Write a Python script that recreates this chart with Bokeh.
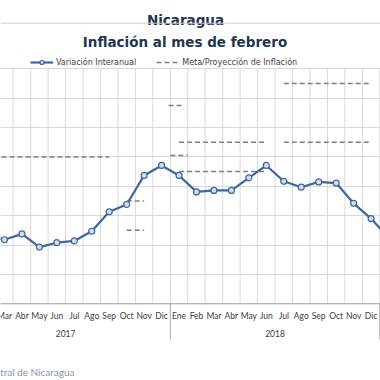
from bokeh.plotting import figure
from bokeh.models import Range1d, FixedTicker, Label, Span, Legend, LegendItem, Grid
from bokeh.core.properties import value
from bokeh.embed import file_html
from bokeh.resources import INLINE

# ---------------- data ----------------
month_names = ["Ene", "Feb", "Mar", "Abr", "May", "Jun", "Jul", "Ago", "Sep", "Oct", "Nov", "Dic"]
years = ["2017", "2018"]

# month index: Ene 2017 = 0 ... Dic 2018 = 23, Ene 2019 = 24
inter_idx = list(range(1, 25))  # Feb 2017 .. Ene 2019
inter_val = [3.35, 3.18, 3.38, 2.93, 3.08, 3.14, 3.47, 4.13, 4.38, 5.37, 5.71,
             5.37, 4.81, 4.86, 4.86, 5.29, 5.71, 5.17, 4.97, 5.15, 5.11, 4.42, 3.90,
             3.25]

# Meta / proyección de inflación (horizontal segments, month-index units)
meta_start = [0, 9, 9, 11.4, 11.5, 12, 12, 18, 18]
meta_end = [8, 10, 10, 12.2, 12.5, 17, 17, 23, 23]
meta_value = [6.0, 3.5, 4.5, 7.75, 6.05, 5.5, 6.5, 6.5, 8.5]

y_grid_values = [1, 2, 3, 4, 5, 6, 7, 8, 9]

# ---------------- layout constants ----------------
X_START, X_END = 1.7725, 23.5404
Y_MIN, Y_MAX = y_grid_values[0], y_grid_values[-1]
MONTH_LABEL_Y = 0.58      # month tick labels (below the axis)
YEAR_LABEL_Y = -0.02      # year group labels
SEP_BOTTOM_Y = -0.22      # bottom of year separators

n_months = len(month_names) * len(years)
all_idx = list(range(n_months))
# only the month labels that fall (at least partly) inside the visible window
vis_idx = [i for i in all_idx if X_START - 0.5 < i < X_END]
vis_labels = [month_names[i % 12] for i in vis_idx]
boundaries = [k - 0.5 for k in range(n_months + 2)]
year_seps = [12 * k - 0.5 for k in range(len(years) + 1)]
year_centers = [12 * k + 5.5 for k in range(len(years))]

p = figure(width=380, height=380, output_backend="svg", toolbar_location=None,
           x_range=Range1d(X_START, X_END), y_range=Range1d(-1.611, 11.325),
           x_axis_location=None, y_axis_location=None, min_border=0)
p.outline_line_color = None
p.background_fill_color = "white"
p.border_fill_color = "white"
p.center = [r for r in p.center if not isinstance(r, Grid)]

# horizontal gridlines
p.add_layout(Grid(dimension=1, ticker=FixedTicker(ticks=y_grid_values),
                  grid_line_color="#D9D9D9", grid_line_width=1))
# vertical gridlines between months (only within plot area)
p.segment(x0=boundaries, y0=[Y_MIN] * len(boundaries), x1=boundaries, y1=[Y_MAX] * len(boundaries),
          line_color="#D9D9D9", line_width=1)
# category axis line and year separators
p.add_layout(Span(location=Y_MIN, dimension="width", line_color="#A6A6A6", line_width=1))
p.segment(x0=year_seps, y0=[Y_MIN] * len(year_seps), x1=year_seps, y1=[SEP_BOTTOM_Y] * len(year_seps),
          line_color="#A6A6A6", line_width=1)
# month and year labels
p.text(x=vis_idx, y=[MONTH_LABEL_Y] * len(vis_idx), text=vis_labels,
       text_font=value("Lato"), text_font_size="8.5px", text_color="#404040",
       text_align="center", text_baseline="middle")
p.text(x=year_centers, y=[YEAR_LABEL_Y] * len(years), text=years,
       text_font=value("Lato"), text_font_size="8.5px", text_color="#404040",
       text_align="center", text_baseline="middle")

# meta segments
seg = p.segment(x0=meta_start, y0=meta_value, x1=meta_end, y1=meta_value,
                line_color="#7F7F7F", line_width=1.5, line_dash="5 3")

# interanual
ln = p.line(inter_idx, inter_val, line_color="#3D65A0", line_width=2.2)
sc = p.scatter(inter_idx, inter_val, marker="circle", size=6,
               fill_color="#D6DCE6", line_color="#3D65A0", line_width=1.2)

legend = Legend(items=[LegendItem(label="Variación Interanual", renderers=[ln, sc]),
                       LegendItem(label="Meta/Proyección de Inflación", renderers=[seg])],
                location=(30, 313), orientation="horizontal",
                label_text_font="DejaVu Sans", label_text_font_size="8px",
                label_text_color="#404040", background_fill_alpha=0,
                border_line_color=None, padding=0, margin=0, spacing=20,
                glyph_width=23, glyph_height=10, label_height=10, label_standoff=3)
p.add_layout(legend, "center")

# titles
p.add_layout(Label(x=185, y=361, x_units="screen", y_units="screen", text="Nicaragua",
                   text_align="center", text_baseline="alphabetic",
                   text_font="DejaVu Sans", text_font_style="bold",
                   text_font_size="13.5px", text_color="#1F3552"))
p.add_layout(Span(location=357.3, location_units="screen", dimension="width",
                  line_color="#D0D0D0", line_width=1))
p.add_layout(Label(x=184.5, y=338.3, x_units="screen", y_units="screen",
                   text="Inflación al mes de febrero",
                   text_align="center", text_baseline="alphabetic",
                   text_font="DejaVu Sans", text_font_style="bold",
                   text_font_size="13.5px", text_color="#1F3552"))
p.add_layout(Label(x=74, y=9, x_units="screen", y_units="screen",
                   text="Fuente: Banco Central de Nicaragua",
                   text_align="right", text_baseline="alphabetic",
                   text_font="Lato", text_font_size="10px", text_color="#8496B0"))

open("out.html", "w").write(file_html(p, INLINE))
